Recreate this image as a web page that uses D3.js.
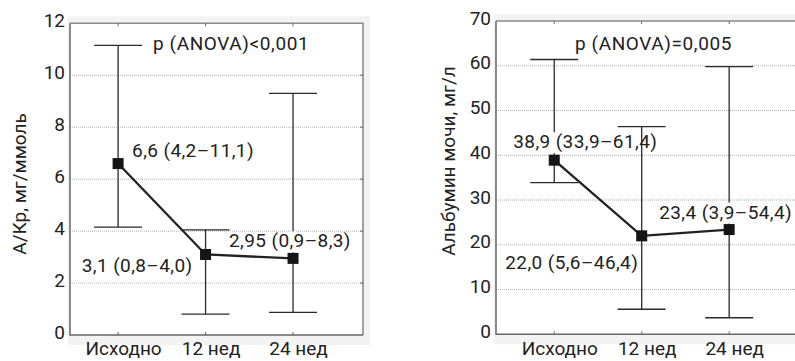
<!DOCTYPE html>
<html lang='ru'>
<head>
<meta charset='utf8'>
<title>А/Кр и альбумин мочи</title>
<script type="text/javascript" src="https://cdn.jsdelivr.net/npm/d3@7/dist/d3.min.js"></script>
<style>
  body { margin: 0; background: #fff; }
  svg { display: block; font-family: 'Roboto', sans-serif; }
</style>
</head>
<body>
<svg id='chart' width='795' height='361'></svg>
<script type="text/javascript">
// --- data ---
var categories = ['Исходно', '12 нед', '24 нед'];

var acrMedian = [6.6, 3.1, 2.95];
var acrLow = [4.15, 0.8, 0.87];
var acrHigh = [11.15, 4.05, 9.3];
var acrLabels = ['6,6 (4,2–11,1)', '3,1 (0,8–4,0)', '2,95 (0,9–8,3)'];
var acrTicks = [0, 2, 4, 6, 8, 10, 12];

var albMedian = [38.9, 22.0, 23.4];
var albLow = [33.9, 5.6, 3.7];
var albHigh = [61.4, 46.4, 59.8];
var albLabels = ['38,9 (33,9–61,4)', '22,0 (5,6–46,4)', '23,4 (3,9–54,4)'];
var albTicks = [0, 10, 20, 30, 40, 50, 60, 70];

// --- layout for each panel ---
var panels = [
    {
        median: acrMedian, low: acrLow, high: acrHigh, labels: acrLabels, ticks: acrTicks,
        title: 'А/Кр, мг/ммоль', titleX: 19, titleY: 184,
        anova: 'p (ANOVA)<0,001', anovaX: 153, anovaY: 50,
        left: 70, right: 363, top: 23.3, bottom: 335, xDomain: [-0.55, 2.8],
        labelPos: [
            {dx: 14, dy: -7, anchor: 'start', cut: false},
            {dx: -13, dy: 18, anchor: 'end', cut: false},
            {dx: -64, dy: -11, anchor: 'start', cut: true}
        ]
    },
    {
        median: albMedian, low: albLow, high: albHigh, labels: albLabels, ticks: albTicks,
        title: 'Альбумин мочи, мг/л', titleX: 448, titleY: 161,
        anova: 'p (ANOVA)=0,005', anovaX: 575, anovaY: 50,
        left: 496, right: 800, top: 21, bottom: 334.3, xDomain: [-0.666, 2.81],
        labelPos: [
            {dx: -41, dy: -12, anchor: 'start', cut: true},
            {dx: -3.5, dy: 33, anchor: 'end', cut: false},
            {dx: -70, dy: -11, anchor: 'start', cut: true}
        ]
    }
];

var svg = d3.select('#chart');

panels.forEach(function(p) {
    var g = svg.append('g');
    var yMax = p.ticks[p.ticks.length - 1];
    var y = d3.scaleLinear().domain([0, yMax]).range([p.bottom, p.top]);
    var x = d3.scaleLinear().domain(p.xDomain).range([p.left, p.right]);
    var idx = d3.range(categories.length);

    // faint grey backing and white plot area
    g.append('rect')
        .attr('x', p.left - 2).attr('y', p.top - 7)
        .attr('width', p.right - p.left + 9).attr('height', p.bottom - p.top + 17)
        .attr('fill', '#f3f3f3');
    g.append('rect')
        .attr('x', p.left).attr('y', p.top)
        .attr('width', p.right - p.left).attr('height', p.bottom - p.top)
        .attr('fill', '#fff');

    // dotted grid
    g.selectAll('.grid')
        .data(p.ticks.slice(1, -1))
        .enter().append('line')
        .attr('x1', p.left).attr('x2', p.right)
        .attr('y1', d => y(d)).attr('y2', d => y(d))
        .attr('stroke', '#9a9a9a').attr('stroke-width', 0.8)
        .attr('stroke-dasharray', '1,1');

    // frame
    g.append('path')
        .attr('d', 'M' + p.left + ',' + p.top + 'H' + p.right + 'V' + p.bottom)
        .attr('fill', 'none').attr('stroke', '#8a8a8a').attr('stroke-width', 1.6);
    g.append('path')
        .attr('d', 'M' + p.left + ',' + p.top + 'V' + p.bottom + 'H' + p.right)
        .attr('fill', 'none').attr('stroke', '#666').attr('stroke-width', 1.5);

    // small inner ticks
    idx.forEach(function(i) {
        g.append('line').attr('x1', x(i)).attr('x2', x(i))
            .attr('y1', p.bottom).attr('y2', p.bottom - 3).attr('stroke', '#666');
        g.append('line').attr('x1', x(i)).attr('x2', x(i))
            .attr('y1', p.top).attr('y2', p.top + 3).attr('stroke', '#666');
    });
    g.selectAll('.rtick')
        .data(p.ticks.slice(1, -1))
        .enter().append('line')
        .attr('x1', p.right).attr('x2', p.right - 3)
        .attr('y1', d => y(d)).attr('y2', d => y(d))
        .attr('stroke', '#666');

    // y axis labels
    var yAxis = d3.axisLeft(y).tickValues(p.ticks).tickSize(0).tickPadding(5);
    var ya = g.append('g').attr('transform', 'translate(' + p.left + ',-3)').call(yAxis);
    ya.select('.domain').remove();
    ya.selectAll('text')
        .attr('font-family', 'Roboto, sans-serif')
        .attr('font-size', 19).attr('fill', '#222');

    // x axis labels
    var xAxis = d3.axisBottom(x).tickValues(idx).tickFormat(i => categories[i]).tickSize(0).tickPadding(7);
    var xa = g.append('g').attr('transform', 'translate(5,' + p.bottom + ')').call(xAxis);
    xa.select('.domain').remove();
    xa.selectAll('text')
        .attr('font-family', 'Roboto, sans-serif')
        .attr('font-size', 19).attr('fill', '#222');

    // axis title
    g.append('text')
        .attr('transform', 'translate(' + p.titleX + ',' + p.titleY + ') rotate(-90)')
        .attr('text-anchor', 'middle').attr('dy', '0.35em')
        .attr('font-size', 19).attr('fill', '#222')
        .text(p.title);

    // whiskers
    idx.forEach(function(i) {
        g.append('line')
            .attr('x1', x(i)).attr('x2', x(i))
            .attr('y1', y(p.low[i])).attr('y2', y(p.high[i]))
            .attr('stroke', '#2a2a2a').attr('stroke-width', 1.3);
        [p.low[i], p.high[i]].forEach(function(v) {
            g.append('line')
                .attr('x1', x(i) - 24).attr('x2', x(i) + 24)
                .attr('y1', y(v)).attr('y2', y(v))
                .attr('stroke', '#2a2a2a').attr('stroke-width', 1.3);
        });
    });

    // median line and markers
    var line = d3.line().x(i => x(i)).y(i => y(p.median[i]));
    g.append('path').datum(idx)
        .attr('d', line)
        .attr('fill', 'none').attr('stroke', '#222').attr('stroke-width', 2.3);

    // value labels (some interrupt a whisker)
    idx.forEach(function(i) {
        var lp = p.labelPos[i];
        var tx = x(i) + lp.dx, ty = y(p.median[i]) + lp.dy;
        if (lp.cut) {
            g.append('rect')
                .attr('x', x(i) - 3).attr('y', ty - 16)
                .attr('width', 6).attr('height', 21)
                .attr('fill', '#fff');
        }
        g.append('text')
            .attr('x', tx).attr('y', ty)
            .attr('text-anchor', lp.anchor)
            .attr('font-size', 19).attr('letter-spacing', 0.4).attr('fill', '#222')
            .text(p.labels[i]);
    });

    g.selectAll('.pt')
        .data(idx)
        .enter().append('rect')
        .attr('x', i => x(i) - 5.5).attr('y', i => y(p.median[i]) - 5.5)
        .attr('width', 11).attr('height', 11)
        .attr('fill', '#151515');

    g.append('text')
        .attr('x', p.anovaX).attr('y', p.anovaY)
        .attr('font-size', 19).attr('letter-spacing', 0.6).attr('fill', '#222')
        .text(p.anova);
});
</script>
</body>
</html>
